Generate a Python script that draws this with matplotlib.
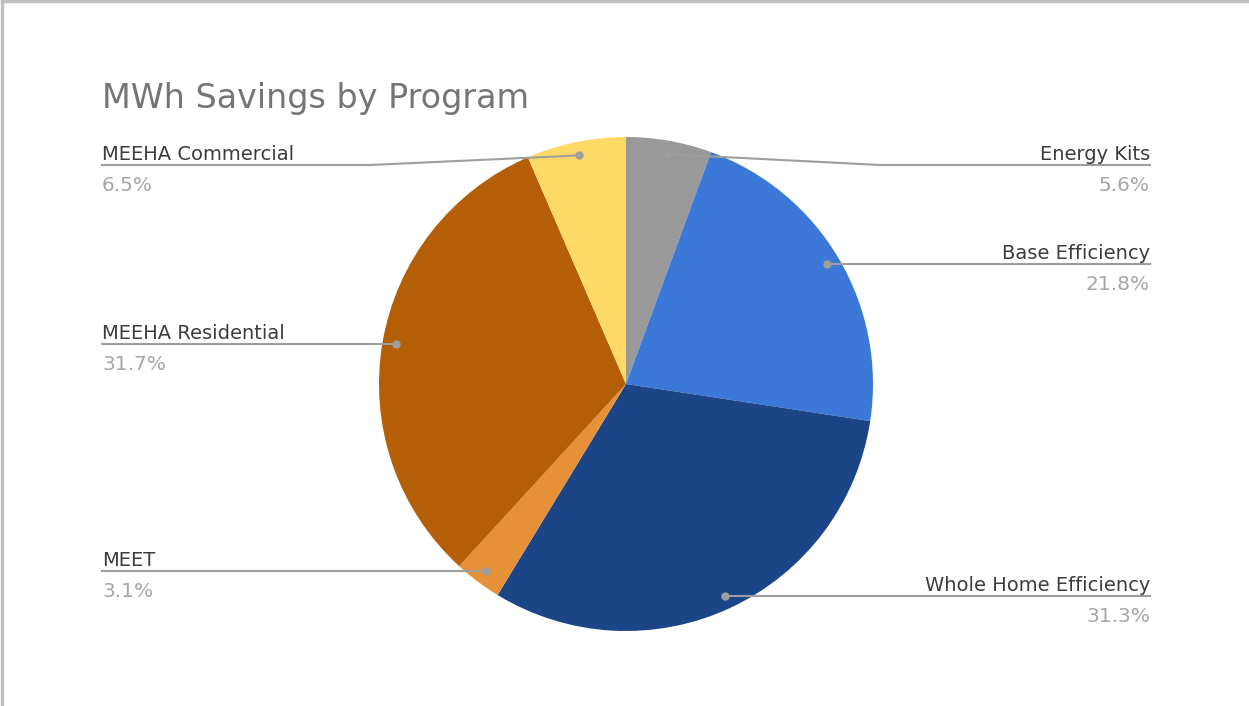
import matplotlib.pyplot as plt
import numpy as np

# program shares of MWh savings, clockwise from 12 o'clock
programs = ['Energy Kits', 'Base Efficiency', 'Whole Home Efficiency', 'MEET',
            'MEEHA Residential', 'MEEHA Commercial']
shares = [5.6, 21.8, 31.3, 3.1, 31.7, 6.5]
colors = ['#999999', '#3c78d8', '#1c4587', '#e69138', '#b45f06', '#ffd966']

W, H = 1249, 706
fig = plt.figure(figsize=(W / 100, H / 100), dpi=100)
ax = fig.add_axes([0, 0, 1, 1])
ax.set_xlim(0, W)
ax.set_ylim(0, H)
ax.set_aspect('equal')
ax.axis('off')

# pixel coordinates, y counted from the top
def py(y):
    return H - y

cx, cy, R = 626, 384, 247
wedges, _ = ax.pie(shares, colors=colors, startangle=90, counterclock=False,
                   center=(cx, py(cy)), radius=R, frame=True,
                   wedgeprops=dict(linewidth=0))
ax.set_xlim(0, W)
ax.set_ylim(0, H)
ax.axis('off')

# label layout: side, line height (px from top), bend point for slanted leaders
layout = {
    'Energy Kits': ('right', 165, 880),
    'Base Efficiency': ('right', 264, None),
    'Whole Home Efficiency': ('right', 596, None),
    'MEET': ('left', 571, None),
    'MEEHA Residential': ('left', 344, None),
    'MEEHA Commercial': ('left', 165, 370),
}

line_col = '#9e9e9e'
cum = np.cumsum([0] + shares[:-1])
for name, s, c0 in zip(programs, shares, cum):
    ang = np.deg2rad(90 - (c0 + s / 2) / sum(shares) * 360)
    dx = cx + 0.945 * R * np.cos(ang)
    dy = cy - 0.945 * R * np.sin(ang)
    side, ly, bend = layout[name]
    end = 1150 if side == 'right' else 102
    xs, ys = [dx], [dy]
    if bend is not None:
        xs.append(bend)
        ys.append(ly)
    else:
        ys[0] = ly
    xs.append(end)
    ys.append(ly)
    ax.plot(xs, [py(v) for v in ys], color=line_col, lw=1.5, zorder=3)
    ax.plot(dx, py(ys[0]), 'o', color=line_col, ms=5, zorder=4)
    ha = 'right' if side == 'right' else 'left'
    ax.text(end, py(ly - 5), name, ha=ha, va='baseline', fontsize=14,
            color='#3c3c3c')
    ax.text(end, py(ly + 26), f'{s}%', ha=ha, va='baseline', fontsize=14.5,
            color='#a6a6a6')

ax.text(102, py(108), 'MWh Savings by Program', fontsize=24, color='#757575',
        va='baseline')

# thin frame along the top and left edges
ax.plot([2, W - 1], [py(1), py(1)], color='#c0c0c0', lw=2.5, clip_on=False)
ax.plot([2, 2], [py(1), 0], color='#c0c0c0', lw=2.5, clip_on=False)

fig.savefig('out.png', dpi=100)
